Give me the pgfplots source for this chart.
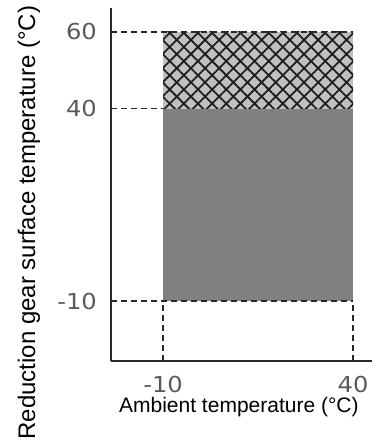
\documentclass[border=0pt]{standalone}
\usepackage{fontspec}
\setmainfont{Liberation Sans}
\newfontfamily\dejavu[FakeStretch=1.1]{DejaVu Sans}
\usepackage{pgfplots}
\pgfplotsset{compat=1.18}
\usetikzlibrary{patterns.meta}
\definecolor{darkfill}{RGB}{128,128,128}
\definecolor{lightfill}{RGB}{192,192,192}
\definecolor{tickgray}{RGB}{90,90,90}
\definecolor{axisgray}{RGB}{40,40,40}
\definecolor{hatchcol}{RGB}{30,30,30}
\begin{document}
\begin{tikzpicture}
\path[use as bounding box] (0,0) rectangle (373pt,443pt);
\begin{axis}[
  at={(111pt,82pt)}, anchor=south west,
  scale only axis, width=261pt, height=353pt,
  xmin=-23.7, xmax=45, ymin=-25.6, ymax=66.2,
  axis lines=left, axis line style={-, line width=2.2pt, draw=axisgray},
  xtick={-10,40}, xticklabels={-10,40},
  ytick={-10,40,60}, yticklabels={-10,40,60},
  major tick length=0pt,
  ticklabel style={font=\dejavu\fontsize{22}{22}\selectfont, text=tickgray},
  yticklabel style={anchor=east, inner sep=0pt, xshift=-14pt},
  xticklabel style={anchor=north, inner sep=0pt, yshift=-15pt},
  xlabel={Ambient temperature (°C)},
  ylabel={Reduction gear surface temperature (°C)},
  xlabel style={at={(rel axis cs:0.490,-0.1473)}, anchor=base, inner sep=0pt, font=\fontsize{21}{21}\selectfont},
  ylabel style={at={(rel axis cs:-0.291,0.392)}, anchor=base, inner sep=0pt, rotate=0, font=\fontsize{24}{24}\selectfont},
  clip=false,
]
% gray operating range
\addplot[draw=none, fill=darkfill] coordinates {(-10,-10) (40,-10) (40,40) (-10,40)} -- cycle;
% hatched range background
\addplot[draw=none, fill=lightfill] coordinates {(-10,40) (40,40) (40,60) (-10,60)} -- cycle;
\addplot[draw=none, pattern={Hatch[angle=45,distance=10pt,line width=1.8pt]}, pattern color=hatchcol] coordinates {(-10,40) (40,40) (40,60) (-10,60)} -- cycle;
% dashed guide lines
\addplot[axisgray, line width=1.4pt, dash pattern=on 6pt off 4pt] coordinates {(-23.7,60) (40,60)};
\addplot[axisgray, line width=1.4pt, dash pattern=on 6pt off 4pt] coordinates {(-23.7,40) (-10,40)};
\addplot[axisgray, line width=1.4pt, dash pattern=on 6pt off 4pt] coordinates {(-23.7,-10) (40,-10)};
\addplot[axisgray, line width=1.4pt, dash pattern=on 6pt off 4pt] coordinates {(-10,-25.6) (-10,-10)};
\addplot[axisgray, line width=1.4pt, dash pattern=on 6pt off 4pt] coordinates {(40,-25.6) (40,-10)};
\end{axis}
\end{tikzpicture}
\end{document}
